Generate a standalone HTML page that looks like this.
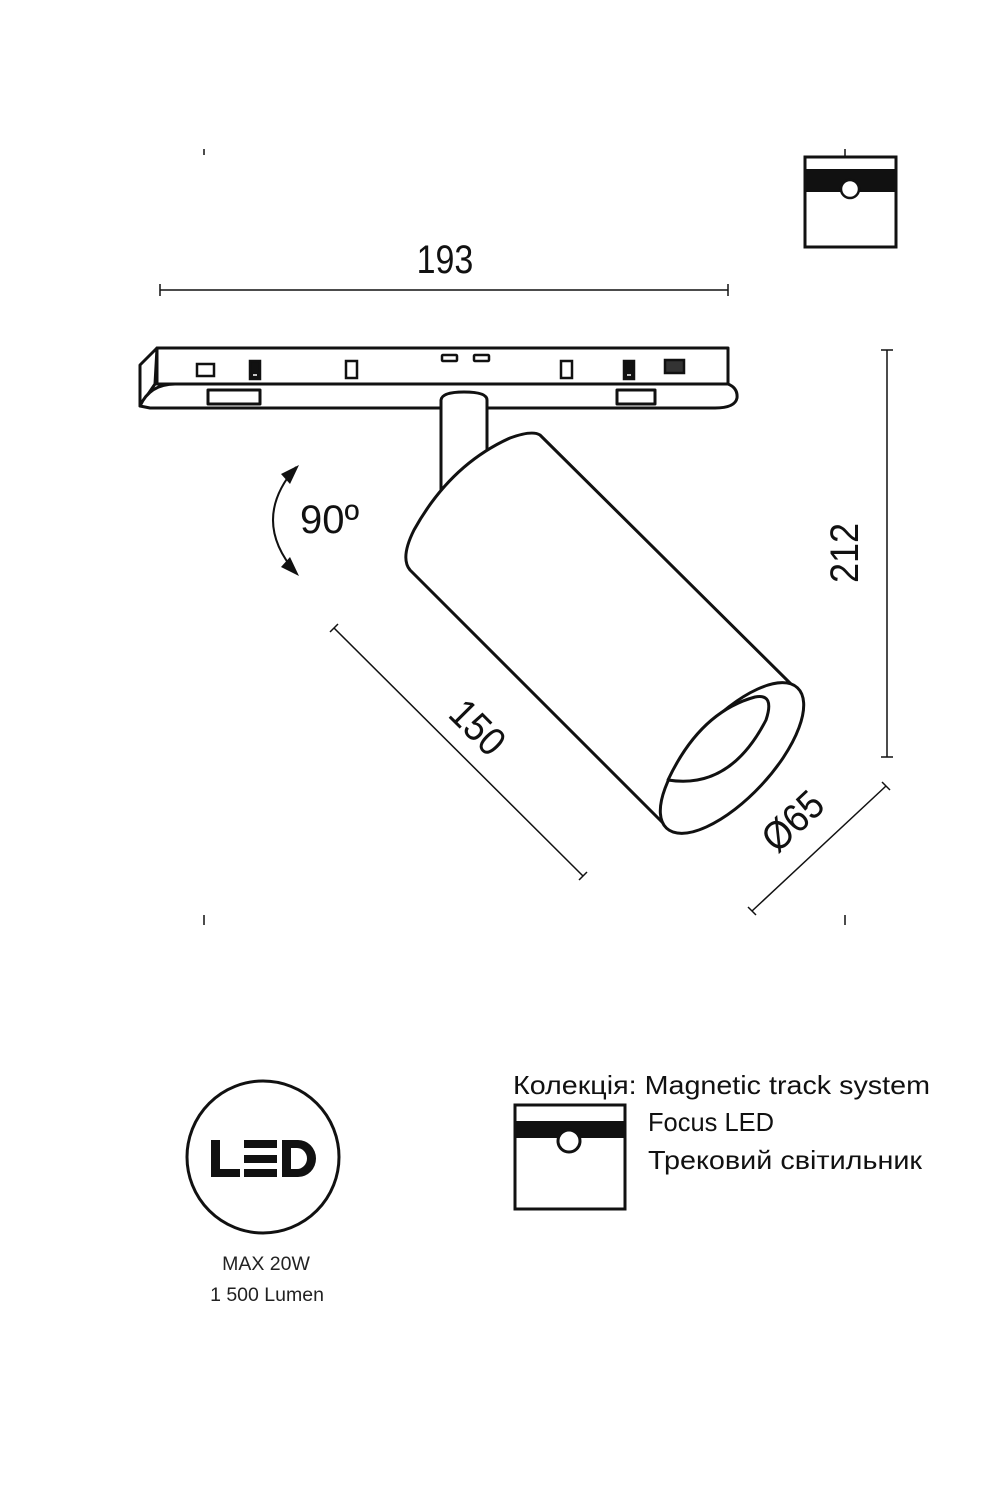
<!DOCTYPE html>
<html><head><meta charset="utf-8"><style>
html,body{margin:0;padding:0;background:#fff;}
svg{display:block;}
</style></head><body>
<svg width="1000" height="1500" viewBox="0 0 1000 1500" xmlns="http://www.w3.org/2000/svg" font-family="Liberation Sans, sans-serif">
<g stroke="#111" fill="none" stroke-width="1.5">
<line x1="204" y1="149" x2="204" y2="155"/>
<line x1="845" y1="149" x2="845" y2="156"/>
<line x1="204" y1="915" x2="204" y2="925"/>
<line x1="845" y1="915" x2="845" y2="925"/>
<line x1="160" y1="290" x2="728" y2="290"/>
<line x1="160" y1="284" x2="160" y2="296"/>
<line x1="728" y1="284" x2="728" y2="296"/>
<line x1="887" y1="350" x2="887" y2="757"/>
<line x1="881" y1="350" x2="893" y2="350"/>
<line x1="881" y1="757" x2="893" y2="757"/>
<line x1="334" y1="628" x2="583" y2="876"/>
<line x1="330" y1="632" x2="338" y2="624"/>
<line x1="579" y1="880" x2="587" y2="872"/>
<line x1="752" y1="911" x2="886" y2="786"/>
<line x1="748" y1="907" x2="756" y2="915"/>
<line x1="882" y1="782" x2="890" y2="790"/>
</g>
<rect x="805" y="157" width="91" height="90" fill="#fff" stroke="#111" stroke-width="3"/>
<rect x="805" y="169" width="91" height="23" fill="#111"/>
<circle cx="850" cy="189" r="9" fill="#fff" stroke="#111" stroke-width="2.5"/>
<g stroke="#111" stroke-width="3" fill="#fff" stroke-linejoin="round">
<path d="M157 348 L728 348 L728 384 L157 384 Z"/>
<path d="M157 348 L140 365 L140 406 L155 384 Z"/>
<path d="M140 406 Q150 384 175 384 L728 384 Q738 388 737 398 Q735 408 715 408 L150 408 Z"/>
<rect x="208" y="390" width="52" height="14"/>
<rect x="617" y="390" width="38" height="14"/>
<path d="M441 500 L441 400 Q442 392 464 392 Q487 392 487 400 L487 470"/>
</g>
<g stroke="#111" stroke-width="2.5" fill="#fff">
<rect x="197" y="364" width="17" height="12"/>
<rect x="250" y="361" width="10" height="18" fill="#111"/>
<rect x="346" y="361" width="11" height="17"/>
<rect x="442" y="355" width="15" height="6" rx="1"/>
<rect x="474" y="355" width="15" height="6" rx="1"/>
<rect x="561" y="361" width="11" height="17"/>
<rect x="624" y="361" width="10" height="18" fill="#111"/>
<rect x="665" y="360" width="19" height="13" fill="#333"/>
</g>
<line x1="253" y1="375" x2="257" y2="375" stroke="#fff" stroke-width="1.5"/>
<line x1="627" y1="375" x2="631" y2="375" stroke="#fff" stroke-width="1.5"/>
<g stroke="#111" stroke-width="3" fill="#fff" stroke-linejoin="round">
<path d="M540 435 L797 690 L667 827 L410 570 Q400 558 414 530 Q450 465 510 438 Q532 430 540 435 Z"/>
<ellipse cx="732" cy="758" rx="96" ry="40" transform="rotate(-47 732 758)"/>
<path d="M668 780 Q700 712 755 697 Q775 693 766 720 Q730 790 668 780 Z" fill="#fff"/>
</g>
<path d="M296 467 Q250 520 296 573" stroke="#111" stroke-width="2" fill="none"/>
<polygon points="299,465 281,474 290,484" fill="#111"/>
<polygon points="299,576 281,567 290,557" fill="#111"/>
<g fill="#111" font-size="40">
<text x="445" y="273" text-anchor="middle" transform="translate(445 0) scale(0.85 1) translate(-445 0)">193</text>
<text x="300" y="533" font-size="40">90º</text>
<text x="0" y="0" text-anchor="middle" transform="translate(858 553) rotate(-90) scale(0.9 1)">212</text>
<text x="0" y="0" text-anchor="middle" transform="translate(468 737) rotate(45) scale(0.9 1)">150</text>
<text x="0" y="0" text-anchor="middle" transform="translate(802 831) rotate(-43) scale(0.9 1)">Ø65</text>
</g>
<circle cx="263" cy="1157" r="76" fill="none" stroke="#111" stroke-width="3"/>
<g fill="#111">
<path d="M211 1140 h9 v29 h20 v8 h-29 z"/>
<rect x="244" y="1140" width="33" height="8"/>
<rect x="244" y="1155" width="33" height="8"/>
<rect x="244" y="1169" width="33" height="8"/>
<path d="M282 1140 h16 a18 18.5 0 0 1 0 37 h-16 z M291 1148 v21 h6 a10 10.5 0 0 0 0 -21 z" fill-rule="evenodd"/>
</g>
<g fill="#222" font-size="19.5" text-anchor="middle">
<text x="266" y="1270">MAX 20W</text>
<text x="267" y="1301">1 500 Lumen</text>
</g>
<rect x="515" y="1105" width="110" height="104" fill="#fff" stroke="#111" stroke-width="3"/>
<rect x="515" y="1121" width="110" height="17" fill="#111"/>
<circle cx="569" cy="1141" r="11" fill="#fff" stroke="#111" stroke-width="3"/>
<g fill="#111" font-family="Liberation Sans, DejaVu Sans, sans-serif" font-size="26">
<text x="513" y="1094" textLength="417" lengthAdjust="spacingAndGlyphs">Колекція: Magnetic track system</text>
<text x="648" y="1131" textLength="126" lengthAdjust="spacingAndGlyphs">Focus LED</text>
<text x="648" y="1169" textLength="274" lengthAdjust="spacingAndGlyphs">Трековий світильник</text>
</g>
</svg>
</body></html>
